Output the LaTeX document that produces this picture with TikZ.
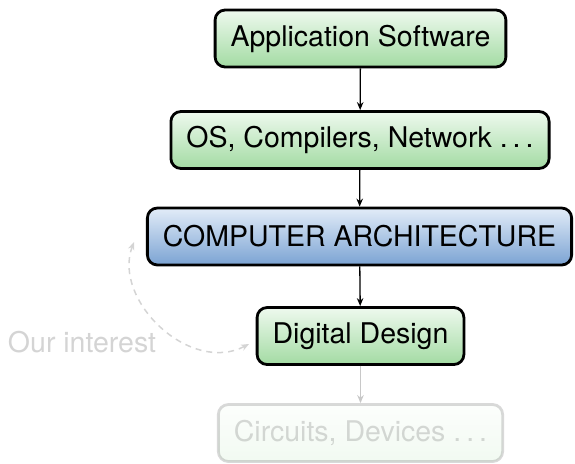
\documentclass[tikz,border=0pt]{standalone}
\usepackage{fontspec}
\setmainfont{TeX Gyre Heros}
\usetikzlibrary{arrows.meta}
\definecolor{gtop}{HTML}{EEF9EE}
\definecolor{gbot}{HTML}{A3DBA3}
\definecolor{btop}{HTML}{E2ECF8}
\definecolor{bbot}{HTML}{7BA3D3}
\definecolor{faint}{HTML}{D4D4D4}
\definecolor{fadearrow}{HTML}{C8C8C8}
\newcommand{\mydots}{.\hspace{5pt}.\hspace{5pt}.}
\tikzset{
  box/.style={draw=black, line width=2.8pt, rounded corners=10pt,
    minimum height=57pt, inner xsep=15.5pt, inner ysep=0pt,
    font=\fontsize{28.5}{34}\selectfont, text=black},
  greenbox/.style={box, top color=gtop, bottom color=gbot},
  bluebox/.style={box, top color=btop, bottom color=bbot},
  fadedbox/.style={box, top color=gtop, bottom color=gbot, opacity=0.15, text opacity=0.15},
  conn/.style={line width=1.3pt, -{Stealth[length=8pt,width=6.5pt]}},
  fadedconn/.style={conn, draw=fadearrow, fill=fadearrow},
  interest/.style={draw=faint, line width=1.5pt, dash pattern=on 6pt off 5pt,
    {Stealth[length=8pt,width=6.5pt,fill=faint]}-{Stealth[length=8pt,width=6.5pt,fill=faint]}},
}
\begin{document}
\begin{tikzpicture}[x=1pt,y=-1pt]
\useasboundingbox (0,0) rectangle (575,463);
\node[greenbox] (app) at (360.5,38.5) {Application Software};
\node[greenbox] (os) at (360,140) {OS, Compilers, Network \mydots};
\node[bluebox] (ca) at (359.5,236.5) {COMPUTER ARCHITECTURE};
\node[greenbox] (dd) at (360.5,336) {Digital Design};
\node[fadedbox] (cd) at (360.5,433) {Circuits, Devices \mydots};
\node[text=faint, font=\fontsize{28.5}{34}\selectfont, anchor=center] (oi) at (82,342) {Our interest};
\draw[conn] (app) -- (os);
\draw[conn] (os) -- (ca);
\draw[conn] (ca) -- (dd);
\draw[fadedconn] (dd) -- (cd);
\coordinate (t1) at (134,242);
\coordinate (t2) at (249,344);
\draw[interest] (t1) .. controls (112,300) and (190,375) .. (t2);
\end{tikzpicture}
\end{document}
